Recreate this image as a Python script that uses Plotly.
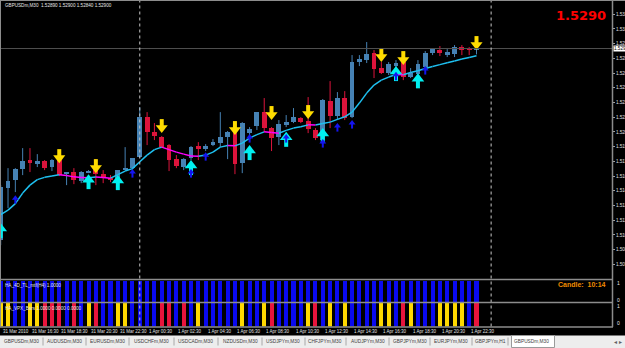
import plotly.graph_objects as go

# ---------------- data (GBPUSDm, M30, bars 0..65 = 31 Mar 2010 14:30 .. 1 Apr 2010 23:00) ----------
opens = [1.50947, 1.51478, 1.51559, 1.51671, 1.51763, 1.51722, 1.51753, 1.51692, 1.51783, 1.51620,
         1.51641, 1.51549, 1.51641, 1.51661, 1.51620, 1.51579, 1.51559, 1.51671, 1.51681, 1.51794,
         1.52201, 1.52048, 1.51997, 1.51916, 1.51773, 1.51692, 1.51783, 1.51906, 1.51875, 1.51916,
         1.51936, 1.51997, 1.52069, 1.51732, 1.52038, 1.52110, 1.52252, 1.52089, 1.51997, 1.52120,
         1.52150, 1.52191, 1.52161, 1.52069, 1.51967, 1.52364, 1.52211, 1.52395, 1.52201, 1.52762,
         1.52782, 1.52854, 1.52701, 1.52650, 1.52721, 1.52762, 1.52609, 1.52640, 1.52711, 1.52854,
         1.52884, 1.52844, 1.52844, 1.52915, 1.52905, 1.52890]
highs = [1.51508, 1.51681, 1.51681, 1.51885, 1.51885, 1.51824, 1.51763, 1.51773, 1.51804, 1.51641,
         1.51681, 1.51651, 1.51661, 1.51773, 1.51661, 1.51610, 1.51661, 1.51895, 1.51783, 1.52303,
         1.52252, 1.52140, 1.52008, 1.51926, 1.51814, 1.51783, 1.51906, 1.51946, 1.51926, 1.51977,
         1.52252, 1.52059, 1.52150, 1.52150, 1.52099, 1.52252, 1.52395, 1.52099, 1.52171, 1.52222,
         1.52293, 1.52201, 1.52405, 1.52089, 1.52385, 1.52568, 1.52456, 1.52466, 1.52833, 1.52833,
         1.52966, 1.52884, 1.52762, 1.52762, 1.52782, 1.52803, 1.52701, 1.52782, 1.52874, 1.52894,
         1.52925, 1.52894, 1.52935, 1.52935, 1.52915, 1.52900]
lows = [1.50896, 1.51274, 1.51437, 1.51610, 1.51641, 1.51692, 1.51661, 1.51651, 1.51600, 1.51508,
        1.51518, 1.51528, 1.51630, 1.51508, 1.51528, 1.51539, 1.51528, 1.51661, 1.51661, 1.51783,
        1.51916, 1.51967, 1.51885, 1.51651, 1.51681, 1.51661, 1.51763, 1.51763, 1.51855, 1.51906,
        1.51895, 1.51773, 1.51620, 1.51630, 1.52018, 1.52069, 1.52048, 1.51855, 1.51916, 1.52099,
        1.52140, 1.52140, 1.52038, 1.51967, 1.51946, 1.52089, 1.52171, 1.52171, 1.52191, 1.52721,
        1.52752, 1.52599, 1.52640, 1.52630, 1.52711, 1.52578, 1.52599, 1.52619, 1.52701, 1.52833,
        1.52823, 1.52813, 1.52813, 1.52833, 1.52833, 1.52840]
closes = [1.51488, 1.51549, 1.51671, 1.51753, 1.51732, 1.51753, 1.51681, 1.51763, 1.51610, 1.51641,
          1.51559, 1.51641, 1.51651, 1.51625, 1.51579, 1.51569, 1.51661, 1.51681, 1.51783, 1.52201,
          1.52048, 1.52008, 1.51895, 1.51763, 1.51702, 1.51773, 1.51895, 1.51875, 1.51906, 1.51946,
          1.51997, 1.52048, 1.51722, 1.52140, 1.52079, 1.52252, 1.52089, 1.51987, 1.52130, 1.52150,
          1.52201, 1.52150, 1.52079, 1.51987, 1.52375, 1.52211, 1.52395, 1.52191, 1.52762, 1.52793,
          1.52844, 1.52691, 1.52650, 1.52742, 1.52752, 1.52609, 1.52650, 1.52742, 1.52854, 1.52894,
          1.52854, 1.52864, 1.52915, 1.52884, 1.52884, 1.52900]
ma_line = [1.51207, 1.51253, 1.51320, 1.51427, 1.51508, 1.51564, 1.51587, 1.51600, 1.51613, 1.51605,
           1.51592, 1.51585, 1.51584, 1.51590, 1.51585, 1.51579, 1.51615, 1.51651, 1.51676, 1.51746,
           1.51814, 1.51870, 1.51895, 1.51870, 1.51844, 1.51824, 1.51804, 1.51801, 1.51814, 1.51844,
           1.51895, 1.51911, 1.51908, 1.51936, 1.51987, 1.52023, 1.52051, 1.52043, 1.52036, 1.52066,
           1.52089, 1.52102, 1.52122, 1.52120, 1.52136, 1.52150, 1.52178, 1.52204, 1.52252, 1.52344,
           1.52446, 1.52528, 1.52578, 1.52609, 1.52635, 1.52632, 1.52655, 1.52673, 1.52696, 1.52716,
           1.52736, 1.52754, 1.52772, 1.52793, 1.52808, 1.52826]

sell_bars = [8, 13, 22, 32, 37, 42, 52, 55, 65]
sell_tips = [1.51732, 1.51630, 1.52038, 1.52018, 1.52171, 1.52181, 1.52762, 1.52731, 1.52884]
buy_bars = [0, 12, 16, 26, 34, 39, 44, 54, 57]
buy_tips = [1.51121, 1.51620, 1.51610, 1.51763, 1.51916, 1.52051, 1.52089, 1.52721, 1.52647]
dot_bars = [2, 18, 26, 28, 34, 39, 44, 46, 48, 54, 58]
dot_tips = [1.51406, 1.51671, 1.51671, 1.51844, 1.52028, 1.52028, 1.51977, 1.52140, 1.52171, 1.52663, 1.52721]

ha_states = "BBBBBBBBBBBBBBBBBBBBBBBBBBBBBBBBBBBBBBBBBBBBBBBBBBBBBBBBBBBBBBBBBB"
vpx_states = "YYBBYYRRRBRBYRBBYYBBBBRRBRBYBBBBBYBBYRBBBBYRBYBYBBBBYYBRYBBBYYYYBR"

time_bars = [0, 4, 8, 12, 16, 20, 24, 28, 32, 36, 40, 44, 48, 52, 56, 60, 64]
time_labels = ["31 Mar 2010", "31 Mar 16:30", "31 Mar 18:30", "31 Mar 20:30", "31 Mar 22:30",
               "1 Apr 00:30", "1 Apr 02:30", "1 Apr 04:30", "1 Apr 06:30", "1 Apr 08:30",
               "1 Apr 10:30", "1 Apr 12:30", "1 Apr 14:30", "1 Apr 16:30", "1 Apr 18:30",
               "1 Apr 20:30", "1 Apr 22:30"]
separator_bars = [19, 67]
price_ticks = [1.5325, 1.5310, 1.5295, 1.5280, 1.5265, 1.5250, 1.5235, 1.5220, 1.5205, 1.5190,
               1.5175, 1.5160, 1.5145, 1.5130, 1.5115, 1.5100, 1.5085, 1.5070, 1.5055]
last_price = 1.5290
header = "GBPUSDm,M30  1.52890 1.52900 1.52840 1.52900"
tabs = ["GBPUSDm,M30", "AUDUSDm,M30", "EURUSDm,M30", "USDCHFm,M30", "USDCADm,M30", "NZDUSDm,M30",
        "USDJPYm,M30", "CHFJPYm,M30", "AUDJPYm,M30", "GBPJPYm,M30", "EURJPYm,M30", "GBPJPYm,H1",
        "GBPUSDm,M30"]

# ---------------- geometry / style ----------------
W, H = 625, 348
SP = 7.32          # px per bar
X0 = 0.7           # px of bar 0 centre
PLOT_R = 612       # right edge of plot area (px)
MAIN_B = 279       # bottom of main window (px)
P1_T, P1_B = 280.5, 302.0
P2_T, P2_B = 303.0, 326.5
P_TOP, P_BOT = 1.533944, 1.505513
PXP = (P_TOP - P_BOT) / MAIN_B   # price per pixel

BULL, BEAR = "#4682B4", "#DC143C"
FONT = "Liberation Sans"

def py(px):
    return 1 - px / H

def pxx(px):
    return px / W

N = len(opens)
idx = list(range(N))

fig = go.Figure()

# candle bodies
body_base, body_h, body_col = [], [], []
for o, c in zip(opens, closes):
    body_base.append(min(o, c))
    body_h.append(max(abs(c - o), PXP))
    body_col.append(BULL if c >= o else BEAR)

# wicks
for col in (BULL, BEAR):
    wx, wy = [], []
    for i in idx:
        if (closes[i] >= opens[i]) == (col == BULL):
            wx += [i, i, None]
            wy += [lows[i], highs[i], None]
    fig.add_trace(go.Scatter(x=wx, y=wy, mode="lines", line=dict(color=col, width=1),
                             hoverinfo="skip", showlegend=False))

fig.add_trace(go.Bar(x=idx, y=body_h, base=body_base, width=0.66,
                     marker=dict(color=body_col, line=dict(width=0)),
                     hoverinfo="skip", showlegend=False))

# moving average: cyan when rising, magenta when falling
for col, rising in (("#1EC0F0", True), ("#FF00FF", False)):
    mx, my = [], []
    for i in range(1, N):
        if (ma_line[i] >= ma_line[i - 1]) == rising:
            mx += [i - 1, i, None]
            my += [ma_line[i - 1], ma_line[i], None]
    fig.add_trace(go.Scatter(x=mx, y=my, mode="lines", line=dict(color=col, width=1.5),
                             hoverinfo="skip", showlegend=False))

def arrows(bars_, tips, down, color, size, stem_w, total_px):
    head_h = 0.75 * size
    sgn = 1 if down else -1
    centre = [t + sgn * (size / 2) * PXP for t in tips]
    sx, sy = [], []
    for b, t in zip(bars_, tips):
        sx += [b, b, None]
        sy += [t + sgn * (head_h - 1) * PXP, t + sgn * total_px * PXP, None]
    fig.add_trace(go.Scatter(x=sx, y=sy, mode="lines", line=dict(color=color, width=stem_w),
                             hoverinfo="skip", showlegend=False))
    fig.add_trace(go.Scatter(x=bars_, y=centre, mode="markers",
                             marker=dict(symbol="triangle-down" if down else "triangle-up",
                                         size=size, color=color, line=dict(width=0)),
                             hoverinfo="skip", showlegend=False))

arrows(buy_bars, buy_tips, False, "#00F0F0", 11, 4, 15)
arrows(dot_bars, dot_tips, False, "#1414F0", 6, 2, 8.5)
arrows(sell_bars, sell_tips, True, "#FFDC00", 10.5, 4, 14)

# indicator windows
state_col = {"B": "#0A0AF0", "Y": "#FFD800", "R": "#E8143C"}
fig.add_trace(go.Bar(x=idx, y=[1] * N, width=0.55, xaxis="x2", yaxis="y2",
                     marker=dict(color=[state_col[s] for s in ha_states], line=dict(width=0)),
                     hoverinfo="skip", showlegend=False))
fig.add_trace(go.Bar(x=idx, y=[1] * N, width=0.55, xaxis="x3", yaxis="y3",
                     marker=dict(color=[state_col[s] for s in vpx_states], line=dict(width=0)),
                     hoverinfo="skip", showlegend=False))

xr = [-X0 / SP, (PLOT_R - X0) / SP]
xdom = [0, pxx(PLOT_R)]
hidden = dict(showgrid=False, zeroline=False, showticklabels=False, ticks="", showline=False)

shapes = []
line_col = "#8C8C8C"
# current price line
shapes.append(dict(type="line", xref="paper", yref="y", x0=0, x1=pxx(PLOT_R), y0=last_price,
                   y1=last_price, line=dict(color="#505050", width=1)))
# period separators
for b in separator_bars:
    shapes.append(dict(type="line", xref="x", yref="paper", x0=b, x1=b, y0=py(P2_B), y1=py(0),
                       line=dict(color="#C8C8C8", width=1, dash="dot")))
# window separators / borders
for yy in (MAIN_B + 0.5, P1_B + 0.5, P2_B + 0.5):
    shapes.append(dict(type="line", xref="paper", yref="paper", x0=0, x1=pxx(PLOT_R + 1),
                       y0=py(yy), y1=py(yy), line=dict(color=line_col, width=1.5)))
shapes.append(dict(type="line", xref="paper", yref="paper", x0=pxx(PLOT_R + 0.5), x1=pxx(PLOT_R + 0.5),
                   y0=py(P2_B + 0.5), y1=py(0), line=dict(color=line_col, width=1.5)))
shapes.append(dict(type="line", xref="paper", yref="paper", x0=0, x1=1, y0=py(0.5), y1=py(0.5),
                   line=dict(color=line_col, width=1)))
shapes.append(dict(type="line", xref="paper", yref="paper", x0=pxx(0.5), x1=pxx(0.5),
                   y0=py(P2_B), y1=py(0), line=dict(color=line_col, width=1)))
# tab strip
shapes.append(dict(type="rect", xref="paper", yref="paper", x0=0, x1=1, y0=0, y1=py(335.5),
                   fillcolor="#EDEDED", line=dict(width=0), layer="above"))
tab_centres = [21, 64, 107.5, 151.5, 195.5, 240, 283, 325, 367.5, 410, 451, 490, 531.5]
tab_seps = [43, 86, 129, 174, 218, 262, 305, 346, 389, 430, 472, 508]
for s in tab_seps:
    shapes.append(dict(type="line", xref="paper", yref="paper", x0=pxx(s), x1=pxx(s),
                       y0=py(345.5), y1=py(337.5), line=dict(color="#A8A8A8", width=1), layer="above"))
shapes.append(dict(type="rect", xref="paper", yref="paper", x0=pxx(511.5), x1=pxx(554.5),
                   y0=py(347.5), y1=py(335.5), fillcolor="#FFFFFF",
                   line=dict(color="#9A9A9A", width=1), layer="above"))

ann = []
small = dict(family=FONT, size=4.6, color="#E6E6E6")
ann.append(dict(text=header, x=pxx(3), y=py(5), xref="paper", yref="paper", xanchor="left",
                yanchor="middle", showarrow=False, font=small))
ann.append(dict(text="<b>1.5290</b>", x=pxx(608), y=py(16), xref="paper", yref="paper",
                xanchor="right", yanchor="middle", showarrow=False,
                font=dict(family="DejaVu Sans", size=13, color="#FF0000")))
ann.append(dict(text="<b>Candle:  10:14</b>", x=pxx(608), y=py(284.5), xref="paper", yref="paper",
                xanchor="right", yanchor="middle", showarrow=False,
                font=dict(family=FONT, size=7, color="#F08C00")))
ann.append(dict(text="HA_4D_TL_mtf(H4) 1.0000", x=pxx(3), y=py(285), xref="paper", yref="paper",
                xanchor="left", yanchor="middle", showarrow=False, font=small))
ann.append(dict(text="HA_VPX_Bars 1.0000 0.0000 0.0000", x=pxx(3), y=py(308.5), xref="paper",
                yref="paper", xanchor="left", yanchor="middle", showarrow=False, font=small))
for t, yy in (("1", 282.5), ("0", 299.5), ("1", 305.5), ("0", 323)):
    ann.append(dict(text=t, x=pxx(615), y=py(yy), xref="paper", yref="paper", xanchor="left",
                    yanchor="middle", showarrow=False, font=dict(family=FONT, size=5, color="#E6E6E6")))
for b, t in zip(time_bars, time_labels):
    ann.append(dict(text=t, x=b, y=py(331.5), xref="x", yref="paper", xanchor="left",
                    yanchor="middle", showarrow=False, font=dict(family=FONT, size=4.5, color="#E0E0E0")))
for c, t in zip(tab_centres, tabs):
    ann.append(dict(text=t, x=pxx(c), y=py(341.5), xref="paper", yref="paper", xanchor="center",
                    yanchor="middle", showarrow=False, font=dict(family=FONT, size=4.8, color="#404040")))
ann.append(dict(text="◂ ▸", x=pxx(624), y=py(341.5), xref="paper", yref="paper", xanchor="right",
                yanchor="middle", showarrow=False, font=dict(family="DejaVu Sans", size=6, color="#606060")))
ann.append(dict(text=f"{last_price:.5f}", x=pxx(613), y=last_price, xref="paper", yref="y",
                xanchor="left", yanchor="middle", showarrow=False, bgcolor="#FFFFFF", borderpad=0,
                font=dict(family=FONT, size=4.6, color="#000000")))

fig.update_layout(
    width=W, height=H, margin=dict(l=0, r=0, t=0, b=0, pad=0), template="none",
    paper_bgcolor="#000000", plot_bgcolor="#000000", barmode="overlay", bargap=0,
    showlegend=False, hovermode=False,
    xaxis=dict(domain=xdom, range=xr, anchor="y", **hidden),
    xaxis2=dict(domain=xdom, range=xr, anchor="y2", matches="x", **hidden),
    xaxis3=dict(domain=xdom, range=xr, anchor="y3", matches="x", **hidden),
    yaxis=dict(domain=[py(MAIN_B), 1], range=[P_BOT, P_TOP], side="right", anchor="x",
               showgrid=False, zeroline=False, showline=False, ticks="outside", ticklen=2,
               tickcolor="#A0A0A0", tickvals=price_ticks, ticktext=[f"{v:.5f}" for v in price_ticks],
               ticklabelstandoff=0,
               tickfont=dict(family=FONT, size=4.6, color="#E0E0E0"), automargin=False),
    yaxis2=dict(domain=[py(P1_B), py(P1_T)], range=[0, 1], anchor="x2", **hidden),
    yaxis3=dict(domain=[py(P2_B), py(P2_T)], range=[0, 1], anchor="x3", **hidden),
    shapes=shapes, annotations=ann,
)

fig.write_html("out.html")
